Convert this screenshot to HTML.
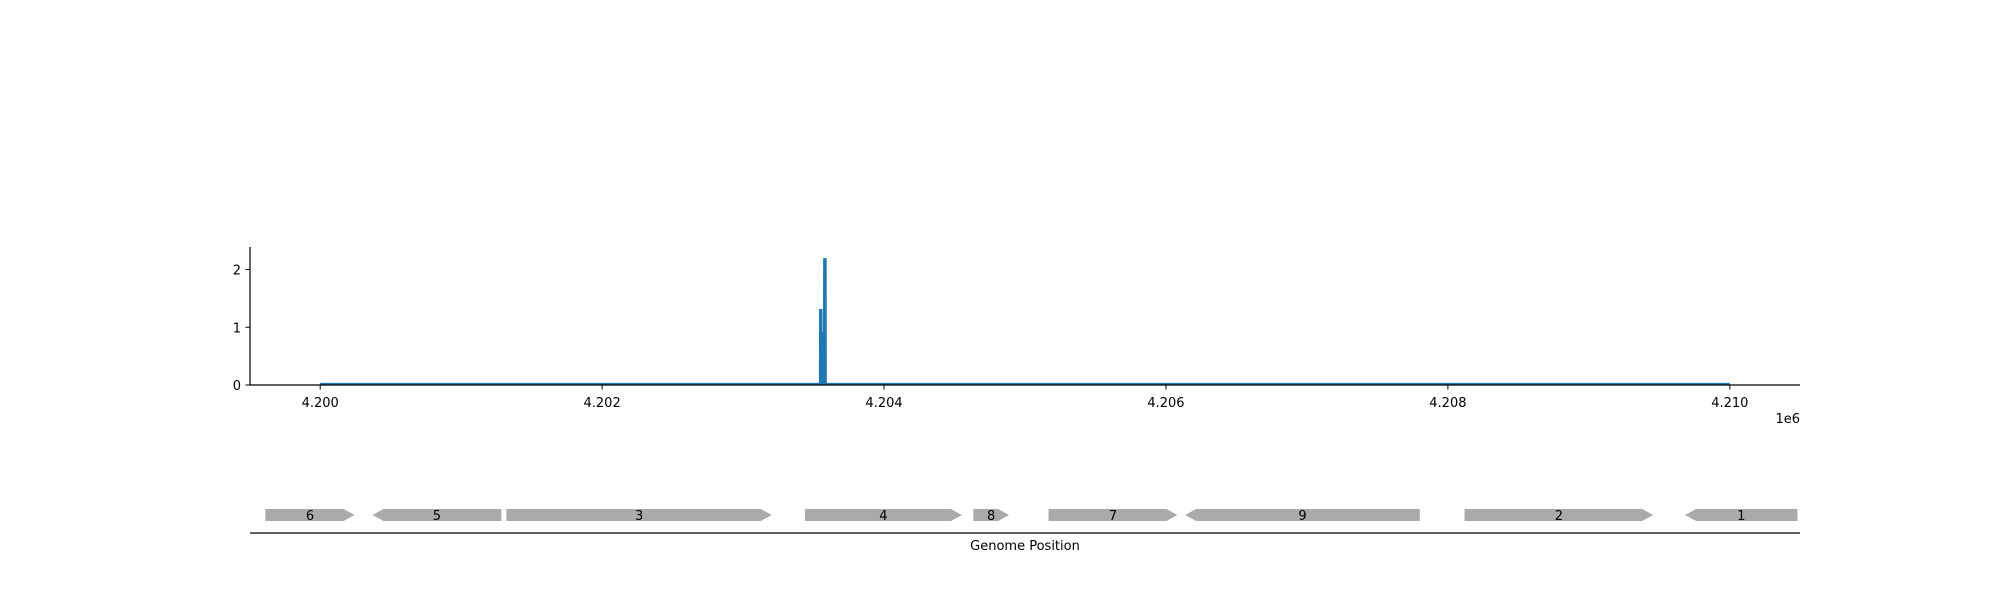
<!DOCTYPE html>
<html><head><meta charset="utf-8"><style>
body{margin:0;background:#fff}
svg text{font-family:"DejaVu Sans","Liberation Sans",sans-serif;font-size:13px;fill:#000}
</style></head><body>
<svg id="chart" width="2000" height="600" xmlns="http://www.w3.org/2000/svg">
<g id="plot"></g>
<g id="genes"></g>
</svg>
<script>
const xTicks=[4200000,4202000,4204000,4206000,4208000,4210000];
const xTickLabels=["4.200","4.202","4.204","4.206","4.208","4.210"];
const yTicks=[0,1,2];
const covPos=[4200000,4203545,4203546,4203556,4203557,4203574,4203575,4203586,4203587,4210000];
const covVal=[0.02,0.02,1.3,1.3,0.9,0.9,2.18,2.18,0.02,0.02];
const geneNames=["6","5","3","4","8","7","9","2","1"];
const geneStart=[4199611,4200371,4201321,4203439,4204633,4205167,4206136,4208118,4209683];
const geneEnd=[4200244,4201285,4203204,4204552,4204887,4206081,4207801,4209457,4210480];
const geneStrand=[1,-1,1,1,1,1,-1,1,-1];

const NS="http://www.w3.org/2000/svg";
const L=250,R=1800,T=247,B=385;
const x0=4199502,x1=4210498,yMax=2.39;
const X=v=>L+(v-x0)/(x1-x0)*(R-L);
const Y=v=>B-v/yMax*(B-T);
function mk(tag,attrs,parent){const e=document.createElementNS(NS,tag);for(const k in attrs)e.setAttribute(k,attrs[k]);parent.appendChild(e);return e;}
const plot=document.getElementById('plot');
const genes=document.getElementById('genes');

let d=covPos.map((p,i)=>(i?'L':'M')+X(p).toFixed(2)+','+Y(covVal[i]).toFixed(2)).join(' ');
const fill=mk('path',{d:d+' L'+X(covPos[covPos.length-1])+','+Y(0)+' L'+X(covPos[0])+','+Y(0)+' Z',fill:'#1f77b4',stroke:'none'},plot);


const line=mk('path',{d:d,fill:'none',stroke:'#1f77b4','stroke-width':2},plot);



const ya=mk('line',{x1:L,y1:T,x2:L,y2:B,stroke:'#000','stroke-width':1.2},plot);


const xa=mk('line',{x1:L,y1:B,x2:R,y2:B,stroke:'#000','stroke-width':1.2},plot);



yTicks.forEach(v=>{
  mk('line',{x1:L-4.5,y1:Y(v),x2:L,y2:Y(v),stroke:'#000','stroke-width':1},plot);
  const t=mk('text',{x:L-9,y:Y(v)+5,'text-anchor':'end'},plot);t.textContent=v;
  
  
});
xTicks.forEach((v,i)=>{
  mk('line',{x1:X(v),y1:B,x2:X(v),y2:B+4.5,stroke:'#000','stroke-width':1},plot);
  const t=mk('text',{x:X(v),y:B+22,'text-anchor':'middle'},plot);t.textContent=xTickLabels[i];
  
  
});
const off=mk('text',{x:R,y:423,'text-anchor':'end'},plot);off.textContent='1e6';



const gT=509,gB=521,gM=515,head=11;
geneNames.forEach((n,i)=>{
  const a=X(geneStart[i]),b=X(geneEnd[i]);
  let pts;
  if(geneStrand[i]>0) pts=[[a,gT],[b-head,gT],[b,gM],[b-head,gB],[a,gB]];
  else pts=[[a,gM],[a+head,gT],[b,gT],[b,gB],[a+head,gB]];
  const p=mk('polygon',{points:pts.map(q=>q.join(',')).join(' '),fill:'#aaaaaa'},genes);
  
  
  const t=mk('text',{x:(a+b)/2,y:gM+5,'text-anchor':'middle'},genes);t.textContent=n;
  
  
});
const gl=mk('line',{x1:L,y1:533,x2:R,y2:533,stroke:'#000','stroke-width':1.2},genes);


const gt=mk('text',{x:1025,y:550,'text-anchor':'middle'},genes);gt.textContent='Genome Position';


</script>
</body></html>
